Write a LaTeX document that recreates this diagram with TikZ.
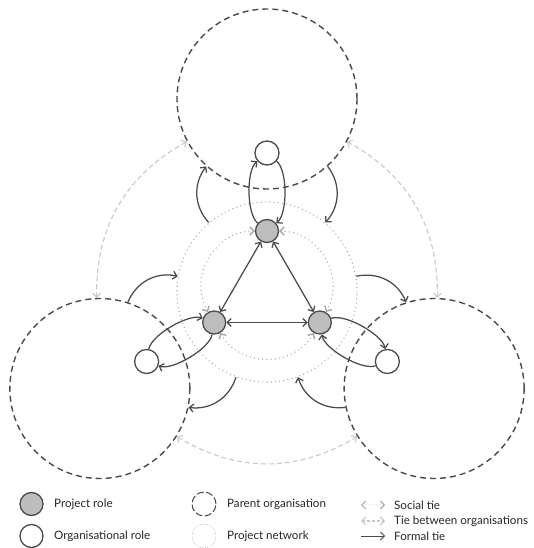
\documentclass[tikz,border=0pt]{standalone}
\usepackage{fontspec}
\setmainfont{Lato}
\usetikzlibrary{arrows.meta}

\definecolor{darkline}{HTML}{4A4A4A}
\definecolor{rolefill}{HTML}{BDBDBD}
\definecolor{softline}{HTML}{C9C9C9}
\definecolor{dotline}{HTML}{A6A6A6}

\tikzset{
  parentorg/.style={circle, draw=darkline, line width=1.4pt, dash pattern=on 6pt off 4pt, minimum size=180pt, inner sep=0pt},
  projnet/.style={circle, draw=dotline, line width=1.4pt, line cap=round, dash pattern=on 0pt off 4.2pt, minimum size=180pt, inner sep=0pt},
  projrole/.style={circle, draw=darkline, line width=1.3pt, fill=rolefill, minimum size=23pt, inner sep=0pt},
  orgrole/.style={circle, draw=darkline, line width=1.3pt, fill=white, minimum size=24pt, inner sep=0pt},
  formal/.style={draw=darkline, line width=1.25pt, -{Straight Barb[length=4pt, width=8pt]}},
  social/.style={draw=dotline, line width=1.4pt, line cap=round, dash pattern=on 0pt off 4.2pt, {Straight Barb[length=4pt, width=8pt]}-{Straight Barb[length=4pt, width=8pt]}},
  orgtie/.style={draw=softline, line width=1.1pt, dash pattern=on 5pt off 3pt, {Straight Barb[length=4pt, width=8pt]}-{Straight Barb[length=4pt, width=8pt]}},
  keytext/.style={anchor=west, inner sep=0pt, text=black!85}
}

\begin{document}
\begin{tikzpicture}[x=1pt, y=1pt, font=\fontsize{11.6}{14}\selectfont]
  \useasboundingbox (-267,-256) rectangle (267,292);

  % organisations, network and roles
  \node[projnet] (net) at (0,0) {};
  \foreach \i/\a in {1/90, 2/210, 3/330} {
    \node[parentorg] (po\i) at (\a:193) {};
    \node[orgrole] (or\i) at (\a:139) {};
    \node[projrole] (pr\i) at (\a:61) {};
  }

  % ties
  \foreach \i/\j/\a [evaluate=\a as \ta using int(\a+118),
                     evaluate=\a as \tb using int(\a+2),
                     evaluate=\a as \na using int(\a+40),
                     evaluate=\a as \nb using int(\a+320),
                     evaluate=\a as \pa using int(\a+138),
                     evaluate=\a as \pb using int(\a+222),
                     evaluate=\a as \so using int(\a+90),
                     evaluate=\a as \si using int(\a+30)]
                     in {1/2/90, 2/3/210, 3/1/330} {
    \draw[orgtie] (po\i.\ta) to[bend right=31] (po\j.\tb);
    \draw[formal] (net.\na) to[bend left=40] (po\i.\pa);
    \draw[formal] (po\i.\pb) to[bend left=40] (net.\nb);
    \draw[formal] (pr\i) to[bend left=50, looseness=.6] (or\i);
    \draw[formal] (or\i) to[bend left=50, looseness=.6] (pr\i);
    \draw[social] (pr\i) to[out=\so, in=\si, looseness=1.1] (pr\j);
    \draw[formal, <->, >={Straight Barb[length=4pt, width=8pt]}] (pr\i) -- (pr\j);
  }

  % key
  \node[projrole] (keyPR) at (-235.5,-212) {};
  \node[keytext] (keyPRtext) at (-213,-212) {Project role};
  \node[orgrole, minimum size=23pt] (keyOR) at (-235.5,-244) {};
  \node[keytext] (keyORtext) at (-213,-244) {Organisational role};
  \node[parentorg, minimum size=24pt, line width=1pt, dash pattern=on 7pt off 2.5pt] (keyPO) at (-63,-212) {};
  \node[keytext] (keyPOtext) at (-40,-212) {Parent organisation};
  \node[projnet, minimum size=24pt, line width=1pt, dash pattern=on 0pt off 2.5pt] (keyPN) at (-63,-244) {};
  \node[keytext] (keyPNtext) at (-40,-244) {Project network};

  \coordinate (keySTa) at (94,-213);
  \coordinate (keySTb) at (118,-213);
  \coordinate (keyOTa) at (94,-229);
  \coordinate (keyOTb) at (118,-229);
  \coordinate (keyFTa) at (94,-244);
  \coordinate (keyFTb) at (118,-244);
  \draw[social, line width=1pt, dash pattern=on 0pt off 3pt] (keySTa) -- (keySTb);
  \draw[orgtie, dash pattern=on 3pt off 2pt] (keyOTa) -- (keyOTb);
  \draw[formal, line width=.8pt] (keyFTa) -- (keyFTb);
  \node[keytext] (keySTtext) at (127,-213) {Social tie};
  \node[keytext] (keyOTtext) at (127,-229) {Tie between organisations};
  \node[keytext] (keyFTtext) at (127,-244) {Formal tie};
\end{tikzpicture}
\end{document}
